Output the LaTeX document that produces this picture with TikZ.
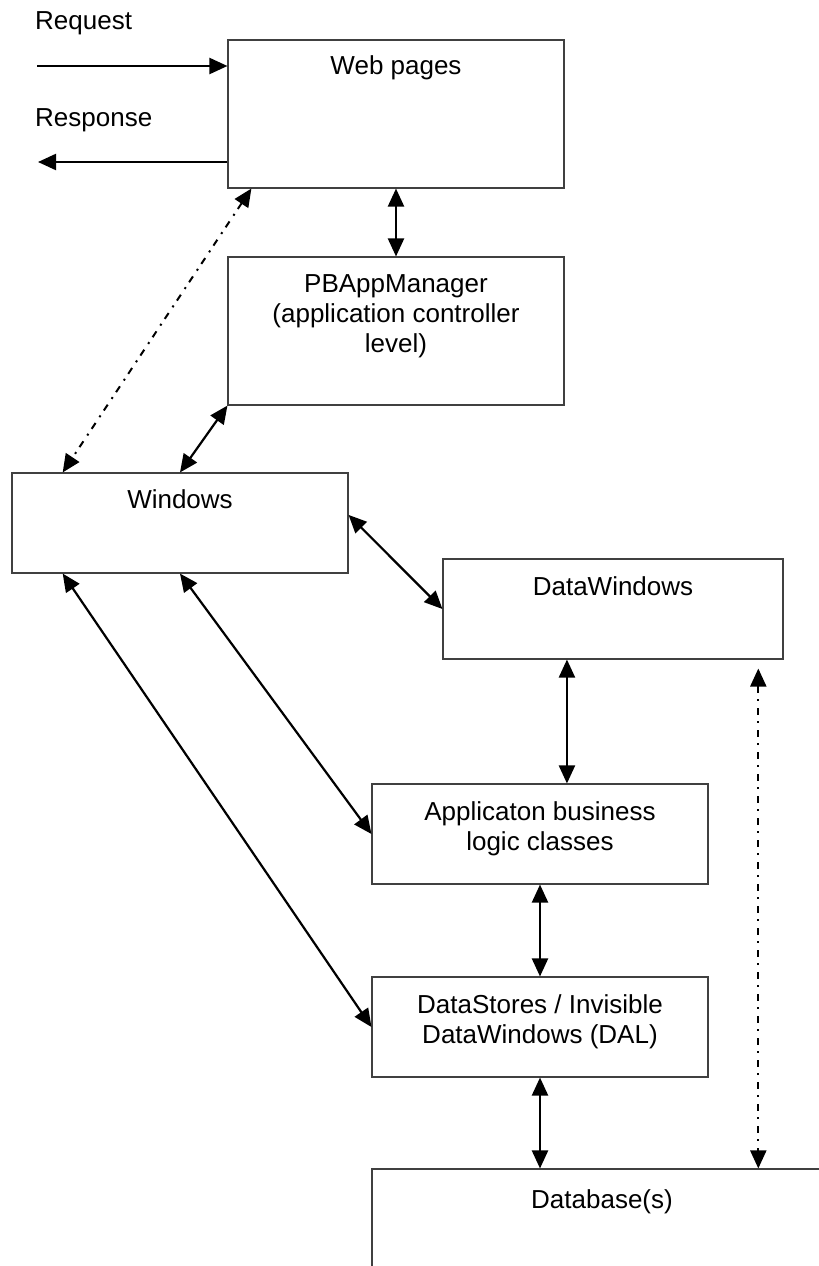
\documentclass[tikz,border=0pt]{standalone}
\usepackage{fontspec}
\setmainfont{Liberation Sans}
\usetikzlibrary{arrows.meta,calc}
\begin{document}
\begin{tikzpicture}[x=1pt,y=-1pt,
  box/.style={draw=black!75, line width=1.1pt, rectangle, inner sep=0pt},
  lbl/.style={font=\fontsize{26}{30}\selectfont, inner sep=0pt, anchor=base},
  conn/.style={line width=2.2pt, {Triangle[length=18pt,width=16pt]}-{Triangle[length=18pt,width=16pt]}},
  oneway/.style={line width=2.2pt, -{Triangle[length=18pt,width=16pt]}},
  dashdot/.style={line width=2pt, dash pattern=on 7pt off 6pt on 2pt off 7pt,
     {Triangle[length=18pt,width=16pt]}-{Triangle[length=18pt,width=16pt]}}]
\useasboundingbox (0,0) rectangle (819,1266);
\clip (0,0) rectangle (819,1266);
\fill[white] (0,0) rectangle (819,1266);

% boxes
\node[box, minimum width=336pt, minimum height=148pt] (web)   at (396,114) {};
\node[box, minimum width=336pt, minimum height=148pt] (pbapp) at (396,331) {};
\node[box, minimum width=336pt, minimum height=100pt] (win)   at (180,523) {};
\node[box, minimum width=340pt, minimum height=100pt] (dw)    at (613,609) {};
\node[box, minimum width=336pt, minimum height=100pt] (app)   at (540,834) {};
\node[box, minimum width=336pt, minimum height=100pt] (ds)    at (540,1027) {};
\node[box, minimum width=460pt, minimum height=200pt] (db)    at (602,1269) {};

% labels
\node[lbl] (webt) at ($(web.north)+(0,35)$) {Web pages};
\node[lbl] (pbappt) at ($(pbapp.north)+(0,36)$) {\begin{tabular}[t]{@{}c@{}}PBAppManager\\(application controller\\level)\end{tabular}};
\node[lbl] (wint) at ($(win.north)+(0,36)$) {Windows};
\node[lbl] (dwt) at ($(dw.north)+(0,37)$) {DataWindows};
\node[lbl] (appt) at ($(app.north)+(0,37)$) {\begin{tabular}[t]{@{}c@{}}Applicaton business\\logic classes\end{tabular}};
\node[lbl] (dst) at ($(ds.north)+(0,37)$) {\begin{tabular}[t]{@{}c@{}}DataStores / Invisible\\DataWindows (DAL)\end{tabular}};
\node[lbl] (dbt) at ($(db.north)+(0,40)$) {Database(s)};
\node[lbl, anchor=base west] (req) at (35,29) {Request};
\node[lbl, anchor=base west] (resp) at (35,126) {Response};

% helper coordinates
\coordinate (reqs) at (37,66);
\coordinate (rese) at (38,162);
\coordinate (webdd) at ($(web.south west)!0.071!(web.south east)$);
\coordinate (windd) at ($(win.north west)!0.152!(win.north east)$);
\coordinate (winsl) at ($(win.south west)!0.152!(win.south east)$);
\coordinate (winer) at ($(win.north east)!0.42!(win.south east)$);
\coordinate (dwb) at ($(dw.south west)!0.365!(dw.south east)$);
\coordinate (dwdd) at ($(dw.south west)!0.926!(dw.south east)$);

% connectors
\draw[oneway] (reqs) -- (reqs -| web.west);
\draw[oneway] (rese -| web.west) -- (rese);
\draw[conn] (web.south) -- (pbapp.north);
\draw[conn] (pbapp.south west) -- (win.north);
\draw[dashdot] (webdd) -- (windd);
\draw[conn] (winer) -- (dw.west);
\draw[conn] (win.south) -- (app.west);
\draw[conn] (winsl) -- (ds.west);
\draw[conn] (dwb) -- (dwb |- app.north);
\draw[conn] (app.south) -- (ds.north);
\draw[conn] (ds.south) -- (ds.south |- db.north);
\draw[dashdot, shorten <=9pt] (dwdd) -- (dwdd |- db.north);
\end{tikzpicture}
\end{document}
